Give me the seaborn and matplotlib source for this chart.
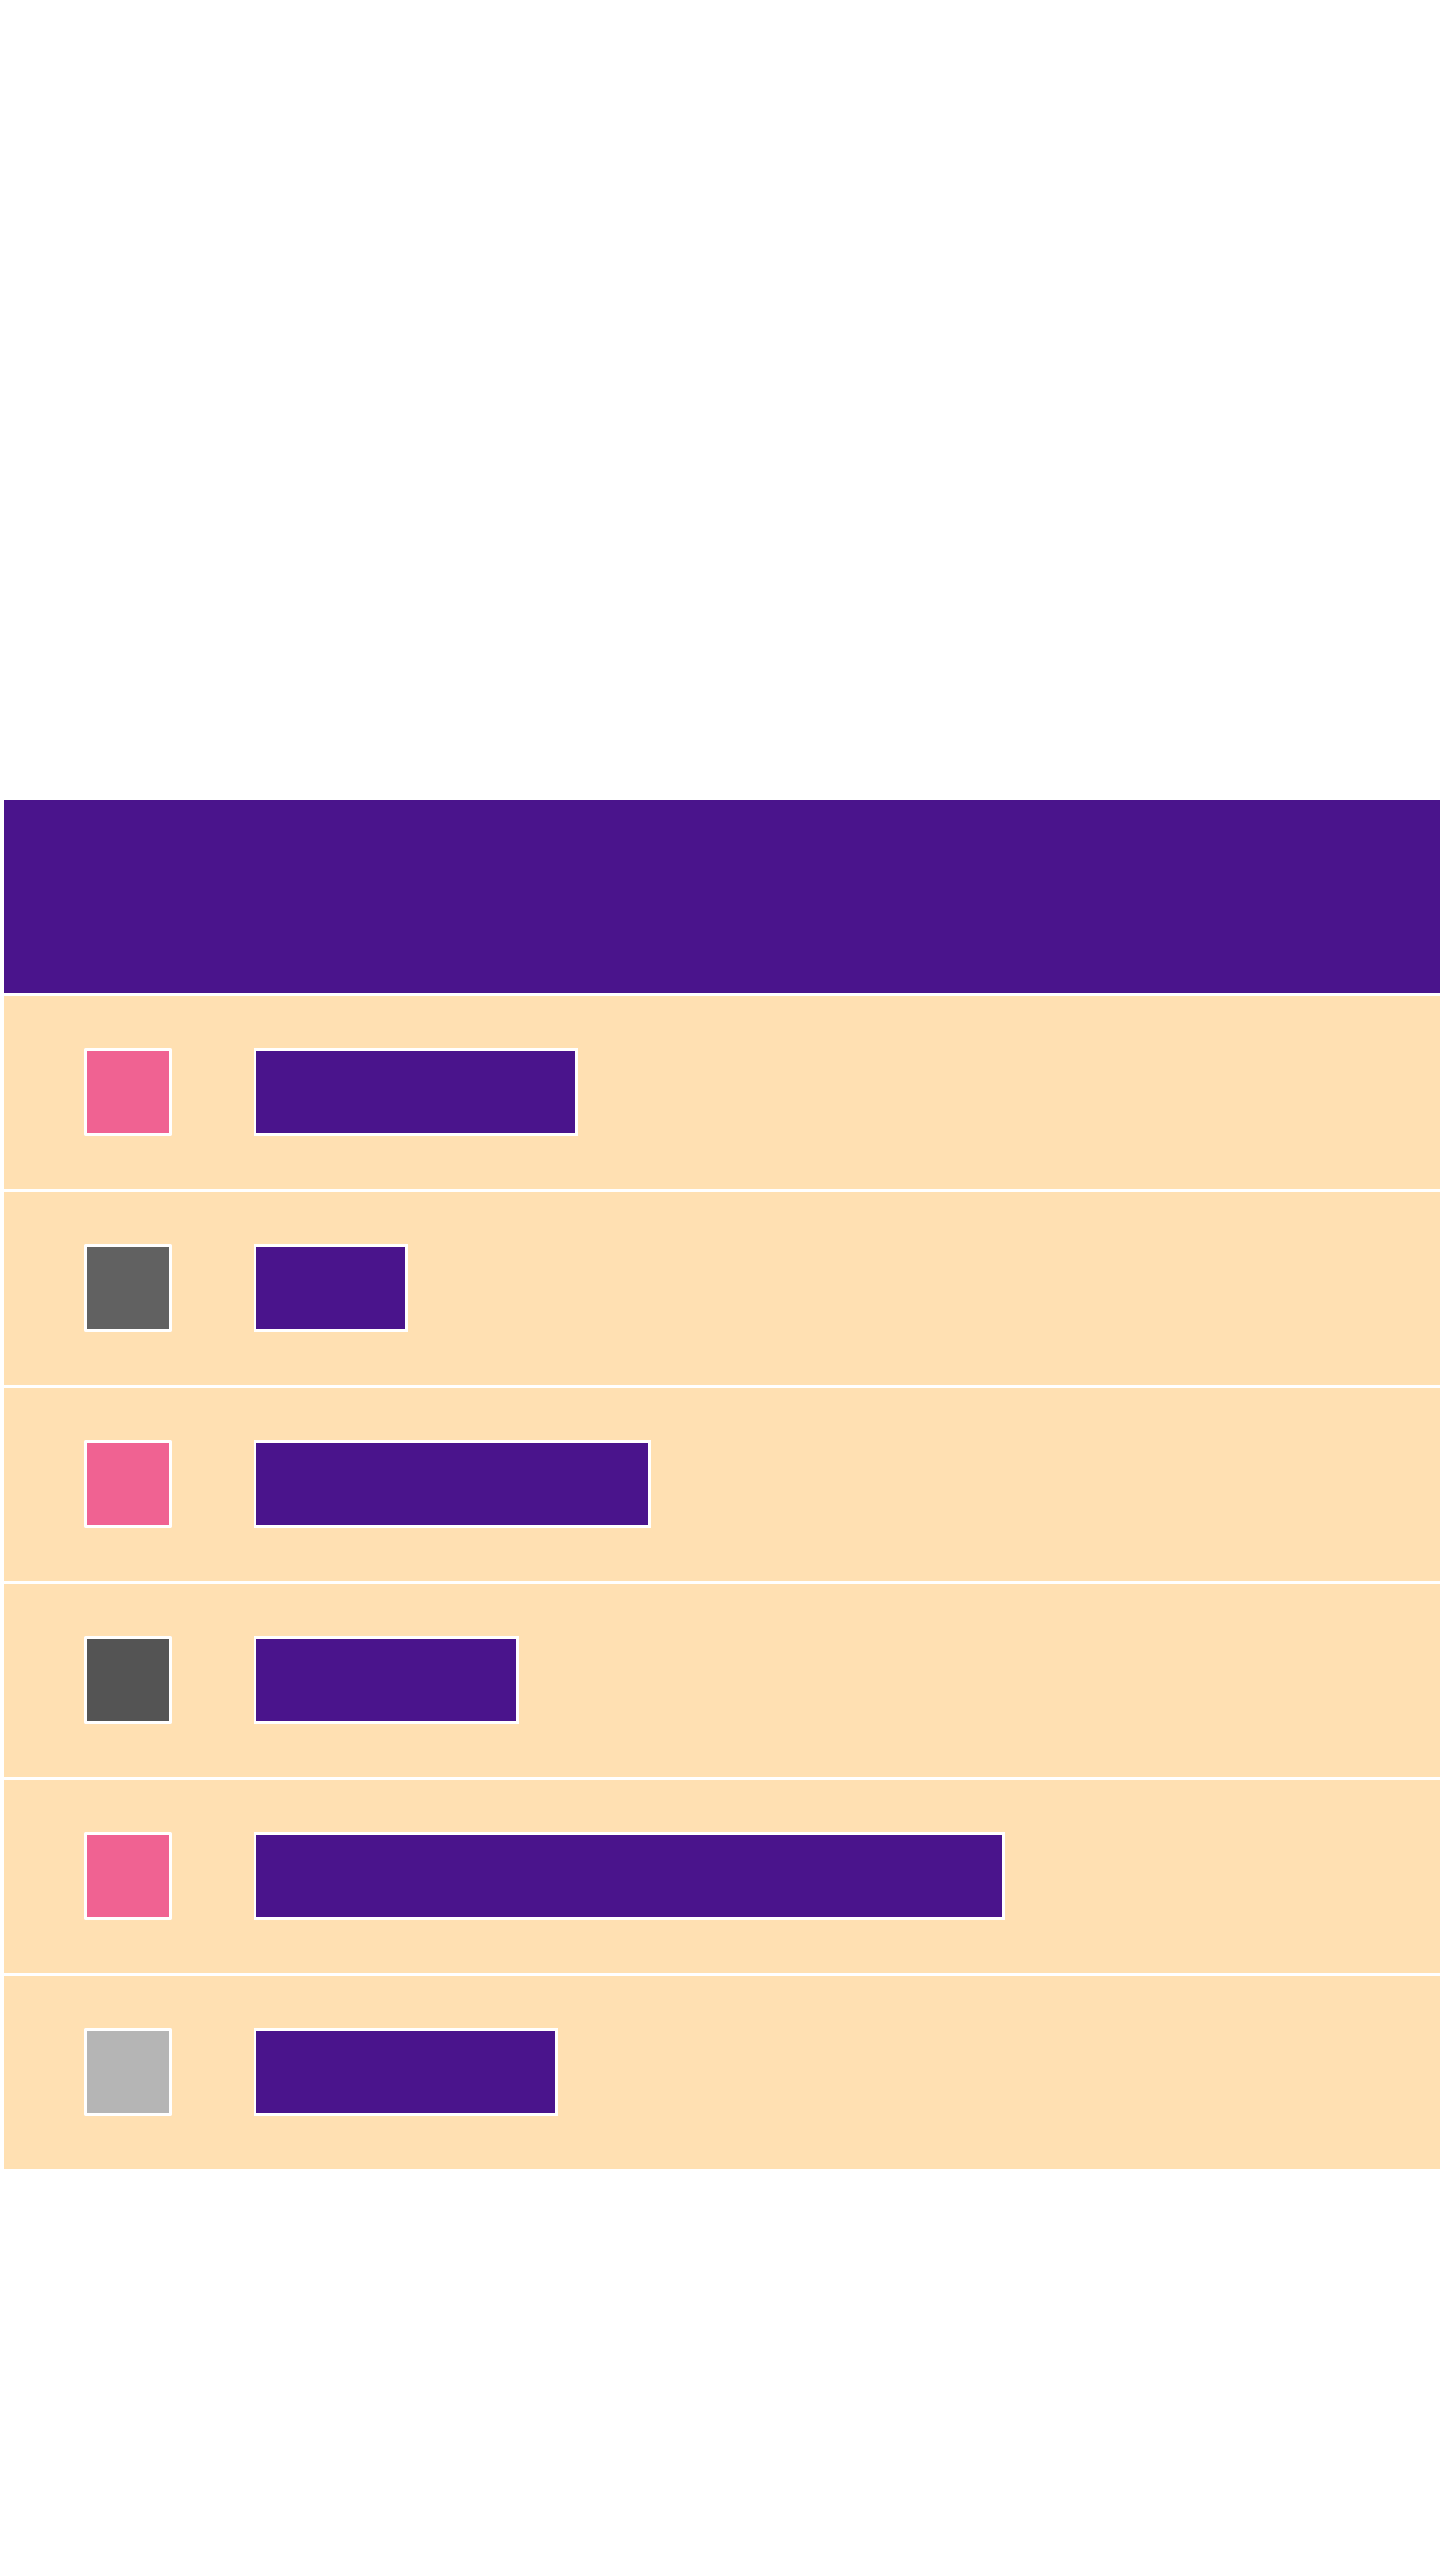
import matplotlib
matplotlib.use('Agg')
import matplotlib.pyplot as plt
import seaborn as sns
import pandas as pd

# Données (aucun texte visible)
rows = ["Item 1", "Item 2", "Item 3", "Item 4", "Item 5", "Item 6"]
status = ["a", "b", "a", "c", "a", "d"]
values = [43.0, 20.4, 52.8, 35.2, 100.0, 40.4]

# Couleurs
purple = "#4A148C"
beige = "#FFE0B2"
status_colors = {"a": "#F06292", "b": "#616161", "c": "#545454", "d": "#B5B5B5"}

df = pd.DataFrame({"row": rows, "status": status, "value": values, "col": 0})

W, H = 1440, 2560
fig = plt.figure(figsize=(W / 100, H / 100), dpi=100)
fig.patch.set_facecolor("white")

row_px = 196
top_px = 797.5
n = len(rows)
bottom_px = top_px + row_px * (n + 1)
edge_lw = 2.16  # ~3 px


def fig_rect(x0, x1, y0, y1):
    return [x0 / W, (H - y1) / H, (x1 - x0) / W, (y1 - y0) / H]


# Fond du tableau : en-tête + lignes
ax_bg = fig.add_axes(fig_rect(1.5, W, top_px, bottom_px))
ax_bg.set_xlim(0, 1)
ax_bg.set_ylim(n - 0.5, -1.5)
ax_bg.axhspan(-1.5, -0.5, xmin=0, xmax=1.01, facecolor=purple,
              edgecolor="white", linewidth=edge_lw)
for i in range(n):
    ax_bg.axhspan(i - 0.5, i + 0.5, xmin=0, xmax=1.01, facecolor=beige,
                  edgecolor="white", linewidth=edge_lw)
ax_bg.axis("off")

# Colonne des carrés de statut
ax_st = fig.add_axes(fig_rect(0, 255, top_px + row_px, bottom_px))
ax_st.patch.set_alpha(0)
sns.scatterplot(data=df, x="col", y="row", hue="status", palette=status_colors,
                marker="s", s=60.5 ** 2, edgecolor="white", linewidth=edge_lw,
                legend=False, ax=ax_st, zorder=3)
ax_st.set_xlim(-0.5, 0.5)
ax_st.set_ylim(n - 0.5, -0.5)
ax_st.axis("off")

# Barres horizontales
ax_bar = fig.add_axes(fig_rect(253.5, W, top_px + row_px, bottom_px))
ax_bar.patch.set_alpha(0)
sns.barplot(data=df, x="value", y="row", orient="h", color=purple, saturation=1,
            width=0.435, edgecolor="white", linewidth=edge_lw, ax=ax_bar)
ax_bar.set_xlim(0, 1186.5 / 7.495)
ax_bar.set_ylim(n - 0.5, -0.5)
ax_bar.axis("off")

plt.savefig("out.png", dpi=100, facecolor="white")
plt.close()
